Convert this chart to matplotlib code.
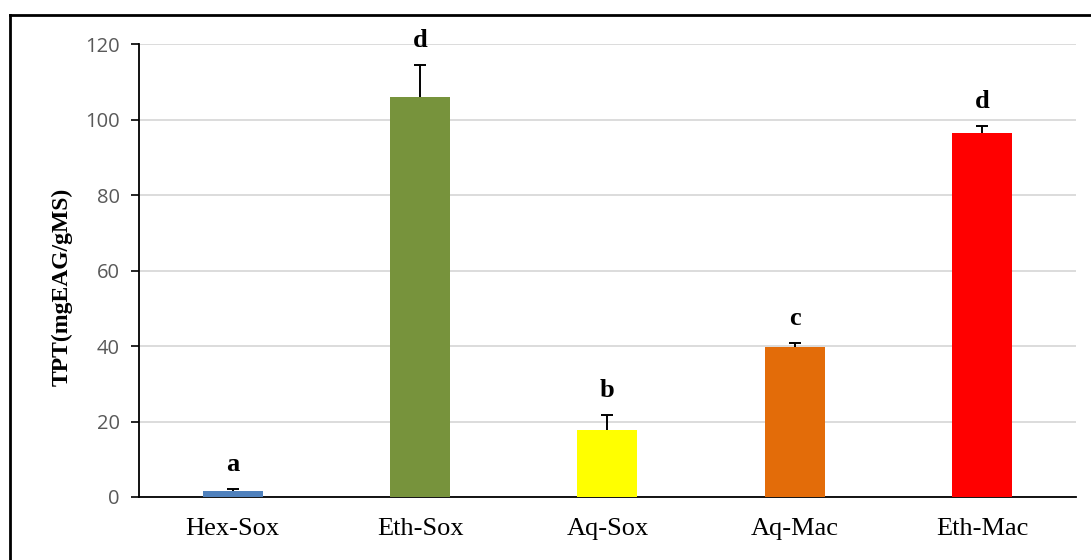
import matplotlib.pyplot as plt
from matplotlib.lines import Line2D

# extraction samples
samples = ["Hex-Sox", "Eth-Sox", "Aq-Sox", "Aq-Mac", "Eth-Mac"]
tpt = [1.6, 106.0, 17.7, 39.7, 96.4]
tpt_err = [0.5, 8.4, 4.0, 1.1, 1.9]
groups = ["a", "d", "b", "c", "d"]
colors = ["#4F81BD", "#77933C", "#FFFF00", "#E36C09", "#FF0000"]

fig = plt.figure(figsize=(10.91, 5.6), dpi=100)
ax = fig.add_axes([0.1274, 0.1125, 0.8588, 0.8089])

x = range(len(samples))
ax.bar(x, tpt, width=0.32, color=colors, zorder=3)
eb = ax.errorbar(x, tpt, yerr=[[0] * len(tpt), tpt_err], fmt="none",
                 ecolor="black", elinewidth=1.4, capsize=4.5, capthick=1.4, zorder=2)
# only the upper cap is wanted
for cap in eb.lines[1]:
    if list(cap.get_ydata()) == tpt:
        cap.set_visible(False)

for i in x:
    ax.text(i, tpt[i] + tpt_err[i] + 3.4, groups[i], ha="center", va="bottom",
            family="Liberation Serif", fontweight="bold", fontsize=19)

ax.set_xlim(-0.5, len(samples) - 0.5)
ax.set_ylim(0, 120)
ax.set_yticks(range(0, 121, 20))
ax.set_xticks(list(x))
ax.set_xticklabels(samples, family="Liberation Serif", fontsize=19)
ax.tick_params(axis="x", length=0, pad=15)
ax.tick_params(axis="y", length=6, width=1.2, direction="out", colors="black",
               labelcolor="#595959", labelsize=14.5, pad=8)
for lab in ax.get_yticklabels():
    lab.set_family("Open Sans")

ax.grid(axis="y", color="#D9D9D9", linewidth=1.3, zorder=0)
ax.spines["top"].set_visible(False)
ax.spines["right"].set_visible(False)
ax.spines["left"].set_linewidth(1.3)
ax.spines["bottom"].set_linewidth(1.3)

ax.set_ylabel("TPT(mgEAG/gMS)", family="Liberation Serif", fontweight="bold",
              fontsize=17)
ax.yaxis.set_label_coords(-0.071, 0.463)

# outer frame (only left and top edges visible)
fig.add_artist(Line2D([10 / 1091, 10 / 1091], [0, 1 - 15 / 560], color="black", lw=2))
fig.add_artist(Line2D([10 / 1091, 1], [1 - 15 / 560, 1 - 15 / 560], color="black", lw=2))

fig.savefig("out.png", dpi=100)
